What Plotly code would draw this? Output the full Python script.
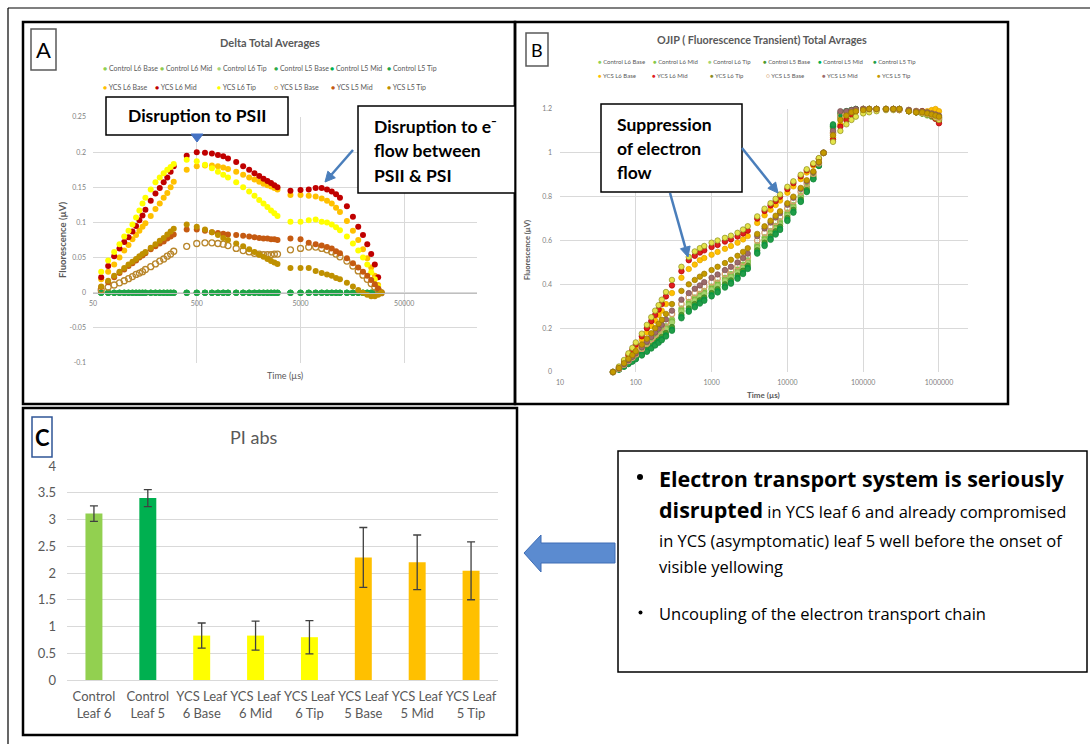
import math
import plotly.graph_objects as go

# ======================= DATA =======================
SERIES_NAMES = ["Control L6 Base", "Control L6 Mid", "Control L6 Tip",
                "Control L5 Base", "Control L5 Mid", "Control L5 Tip",
                "YCS L6 Base", "YCS L6 Mid", "YCS L6 Tip",
                "YCS L5 Base", "YCS L5 Mid", "YCS L5 Tip"]

# ---- Panel A: delta (YCS - control) of normalised OJIP transient ----
TIME_A = [50, 60, 70, 80, 90, 100, 110, 120, 130, 140, 150, 160, 180, 200, 220, 240, 260, 280, 300,
          400, 500, 600, 700, 800, 900, 1000, 1200, 1400, 1600, 1800, 2000, 2200, 2400, 2600, 2800, 3000,
          4000, 5000, 6000, 7000, 8000, 9000, 10000, 11000, 12000, 14000, 16000, 18000, 20000, 22000,
          24000, 26000, 28000, 30000]

DELTA_CONTROL = [0, 0, 0, 0, 0, 0, 0, 0, 0, 0, 0, 0, 0, 0, 0, 0, 0, 0, 0,
                 0, 0, 0, 0, 0, 0, 0, 0, 0, 0, 0, 0, 0, 0, 0, 0, 0,
                 0, 0, 0, 0, 0, 0, 0, 0, 0, 0, 0, 0, 0, 0, 0, 0, 0, 0]

DELTA_YCS_L6_BASE = [0, 0.019, 0.030, 0.040, 0.050, 0.060, 0.068, 0.076, 0.082, 0.088, 0.094, 0.099, 0.109, 0.119, 0.127, 0.135, 0.142, 0.150, 0.158,
                     0.175, 0.180, 0.181, 0.181, 0.180, 0.178, 0.176, 0.172, 0.168, 0.164, 0.161, 0.158, 0.155, 0.153, 0.151, 0.149, 0.147,
                     0.139, 0.139, 0.138, 0.137, 0.134, 0.131, 0.127, 0.121, 0.115, 0.102, 0.088, 0.075, 0.062, 0.049, 0.036, 0.024, 0.011, 0.0]
DELTA_YCS_L6_MID = [0, 0.022, 0.038, 0.052, 0.063, 0.072, 0.079, 0.087, 0.095, 0.103, 0.110, 0.118, 0.131, 0.141, 0.149, 0.157, 0.164, 0.172, 0.180,
                    0.195, 0.200, 0.199, 0.198, 0.196, 0.194, 0.191, 0.186, 0.180, 0.175, 0.170, 0.166, 0.162, 0.159, 0.156, 0.153, 0.150,
                    0.145, 0.146, 0.147, 0.149, 0.149, 0.147, 0.144, 0.140, 0.135, 0.123, 0.108, 0.094, 0.082, 0.069, 0.055, 0.040, 0.022, 0.0]
DELTA_YCS_L6_TIP = [0, 0.030, 0.046, 0.058, 0.069, 0.080, 0.088, 0.097, 0.107, 0.117, 0.127, 0.135, 0.147, 0.157, 0.164, 0.170, 0.175, 0.179, 0.183,
                    0.189, 0.187, 0.182, 0.177, 0.172, 0.168, 0.164, 0.157, 0.150, 0.144, 0.138, 0.132, 0.127, 0.122, 0.117, 0.113, 0.109,
                    0.101, 0.101, 0.103, 0.104, 0.101, 0.100, 0.097, 0.093, 0.089, 0.080, 0.070, 0.060, 0.050, 0.040, 0.029, 0.019, 0.009, 0.0]
DELTA_YCS_L5_BASE = [0, 0.004, 0.008, 0.011, 0.014, 0.017, 0.020, 0.023, 0.026, 0.028, 0.030, 0.033, 0.037, 0.041, 0.045, 0.048, 0.052, 0.055, 0.059,
                     0.066, 0.070, 0.071, 0.071, 0.070, 0.069, 0.067, 0.063, 0.060, 0.058, 0.056, 0.055, 0.054, 0.054, 0.054, 0.055, 0.055,
                     0.061, 0.063, 0.065, 0.065, 0.063, 0.061, 0.058, 0.055, 0.051, 0.045, 0.038, 0.031, 0.025, 0.019, 0.013, 0.008, 0.004, 0.0]
DELTA_YCS_L5_MID = [0, 0.008, 0.015, 0.022, 0.028, 0.033, 0.038, 0.042, 0.046, 0.050, 0.053, 0.056, 0.062, 0.066, 0.070, 0.073, 0.077, 0.080, 0.083,
                    0.090, 0.090, 0.088, 0.086, 0.085, 0.084, 0.083, 0.082, 0.081, 0.080, 0.079, 0.078, 0.077, 0.077, 0.076, 0.076, 0.075,
                    0.077, 0.076, 0.071, 0.069, 0.067, 0.065, 0.063, 0.059, 0.056, 0.049, 0.042, 0.036, 0.030, 0.024, 0.018, 0.012, 0.006, 0.0]
DELTA_YCS_L5_TIP = [0, 0.009, 0.017, 0.024, 0.030, 0.035, 0.040, 0.044, 0.048, 0.052, 0.055, 0.058, 0.064, 0.069, 0.074, 0.078, 0.083, 0.087, 0.091,
                    0.097, 0.094, 0.090, 0.086, 0.082, 0.078, 0.075, 0.070, 0.066, 0.062, 0.058, 0.054, 0.051, 0.048, 0.045, 0.043, 0.041,
                    0.035, 0.035, 0.035, 0.031, 0.028, 0.026, 0.024, 0.021, 0.019, 0.014, 0.009, 0.004, 0.000, -0.003, -0.005, -0.005, -0.003, 0.0]

A_X_TICKS = [50, 500, 5000, 50000]
A_X_TICKTEXT = ["50", "500", "5000", "50000"]
A_Y_TICKS = [-0.1, -0.05, 0, 0.05, 0.1, 0.15, 0.2, 0.25]
A_Y_TICKTEXT = ["-0.1", "-0.05", "0", "0.05", "0.1", "0.15", "0.2", "0.25"]

# ---- Panel B: OJIP fluorescence transient (normalised) ----
TIME_B = [50, 60, 70, 80, 90, 100, 120, 140, 160, 180, 200, 220, 250, 300,
          400, 500, 600, 700, 800, 1000, 1200, 1500, 1800, 2200, 2600, 3000,
          4000, 5000, 6000, 7000, 8000, 10000, 12000, 15000, 18000, 22000, 26000, 30000,
          40000, 50000, 60000, 70000, 80000, 100000, 120000, 150000, 200000, 250000, 300000,
          400000, 500000, 600000, 700000, 800000, 900000, 1000000]

OJIP_CONTROL_L6_BASE = [0, 0.014, 0.031, 0.047, 0.061, 0.075, 0.098, 0.12, 0.14, 0.157, 0.173, 0.188, 0.209, 0.24,
                        0.29, 0.32, 0.34, 0.357, 0.37, 0.39, 0.408, 0.43, 0.447, 0.468, 0.49, 0.51,
                        0.58, 0.615, 0.643, 0.667, 0.688, 0.728, 0.762, 0.806, 0.846, 0.895, 0.948, 1.0,
                        1.11, 1.16, 1.18, 1.19, 1.195, 1.2, 1.2, 1.2, 1.2, 1.2, 1.2,
                        1.19, 1.185, 1.18, 1.175, 1.17, 1.16, 1.15]
OJIP_CONTROL_L6_MID = [0, 0.013, 0.03, 0.045, 0.059, 0.072, 0.094, 0.115, 0.134, 0.151, 0.166, 0.18, 0.2, 0.23,
                       0.28, 0.31, 0.33, 0.347, 0.36, 0.38, 0.398, 0.42, 0.437, 0.458, 0.48, 0.5,
                       0.57, 0.605, 0.633, 0.657, 0.678, 0.718, 0.753, 0.798, 0.84, 0.891, 0.946, 1.0,
                       1.115, 1.165, 1.18, 1.19, 1.195, 1.2, 1.2, 1.2, 1.2, 1.2, 1.2,
                       1.19, 1.185, 1.18, 1.175, 1.165, 1.16, 1.15]
OJIP_CONTROL_L6_TIP = [0, 0.013, 0.029, 0.044, 0.057, 0.07, 0.091, 0.111, 0.13, 0.146, 0.161, 0.175, 0.195, 0.225,
                       0.275, 0.305, 0.325, 0.342, 0.355, 0.375, 0.393, 0.415, 0.432, 0.453, 0.475, 0.497,
                       0.565, 0.6, 0.628, 0.652, 0.673, 0.713, 0.749, 0.795, 0.837, 0.889, 0.945, 1.0,
                       1.12, 1.17, 1.185, 1.195, 1.2, 1.2, 1.2, 1.2, 1.2, 1.2, 1.2,
                       1.19, 1.185, 1.18, 1.17, 1.165, 1.155, 1.145]
OJIP_CONTROL_L5_BASE = [0, 0.012, 0.027, 0.04, 0.052, 0.064, 0.083, 0.101, 0.118, 0.133, 0.147, 0.16, 0.178, 0.205,
                        0.26, 0.29, 0.31, 0.327, 0.34, 0.36, 0.378, 0.4, 0.418, 0.44, 0.462, 0.485,
                        0.555, 0.59, 0.618, 0.642, 0.663, 0.703, 0.74, 0.787, 0.83, 0.885, 0.943, 1.0,
                        1.12, 1.17, 1.185, 1.19, 1.195, 1.2, 1.2, 1.2, 1.2, 1.2, 1.2,
                        1.19, 1.185, 1.18, 1.175, 1.17, 1.16, 1.15]
OJIP_CONTROL_L5_MID = [0, 0.011, 0.025, 0.038, 0.049, 0.06, 0.078, 0.095, 0.111, 0.125, 0.138, 0.15, 0.167, 0.193,
                       0.25, 0.28, 0.3, 0.317, 0.33, 0.35, 0.368, 0.39, 0.408, 0.43, 0.452, 0.475,
                       0.545, 0.58, 0.608, 0.632, 0.653, 0.694, 0.731, 0.779, 0.824, 0.881, 0.941, 1.0,
                       1.125, 1.175, 1.19, 1.195, 1.2, 1.2, 1.2, 1.2, 1.2, 1.2, 1.2,
                       1.195, 1.19, 1.185, 1.18, 1.17, 1.165, 1.155]
OJIP_CONTROL_L5_TIP = [0, 0.011, 0.024, 0.036, 0.047, 0.058, 0.075, 0.092, 0.107, 0.121, 0.133, 0.145, 0.162, 0.188,
                       0.245, 0.275, 0.295, 0.312, 0.325, 0.345, 0.363, 0.385, 0.403, 0.425, 0.447, 0.47,
                       0.54, 0.575, 0.603, 0.627, 0.648, 0.689, 0.727, 0.776, 0.821, 0.879, 0.94, 1.0,
                       1.13, 1.18, 1.19, 1.195, 1.2, 1.2, 1.2, 1.2, 1.2, 1.2, 1.2,
                       1.195, 1.19, 1.185, 1.18, 1.175, 1.165, 1.16]
OJIP_YCS_L6_BASE = [0, 0.02, 0.045, 0.07, 0.09, 0.112, 0.148, 0.18, 0.21, 0.235, 0.26, 0.28, 0.31, 0.36,
                    0.43, 0.47, 0.49, 0.51, 0.52, 0.535, 0.548, 0.562, 0.575, 0.59, 0.605, 0.62,
                    0.68, 0.715, 0.74, 0.762, 0.782, 0.818, 0.847, 0.88, 0.91, 0.942, 0.971, 1.0,
                    1.07, 1.13, 1.16, 1.18, 1.19, 1.2, 1.2, 1.2, 1.2, 1.2, 1.2,
                    1.195, 1.19, 1.19, 1.19, 1.195, 1.2, 1.19]
OJIP_YCS_L6_MID = [0, 0.022, 0.05, 0.078, 0.1, 0.125, 0.163, 0.2, 0.232, 0.26, 0.285, 0.31, 0.345, 0.395,
                   0.46, 0.51, 0.53, 0.545, 0.555, 0.57, 0.58, 0.595, 0.605, 0.618, 0.632, 0.645,
                   0.70, 0.735, 0.76, 0.78, 0.8, 0.835, 0.862, 0.893, 0.92, 0.948, 0.974, 1.0,
                   1.06, 1.12, 1.15, 1.175, 1.19, 1.2, 1.2, 1.2, 1.2, 1.2, 1.195,
                   1.19, 1.185, 1.19, 1.18, 1.17, 1.155, 1.135]
OJIP_YCS_L6_TIP = [0, 0.025, 0.055, 0.085, 0.11, 0.135, 0.175, 0.215, 0.25, 0.28, 0.305, 0.33, 0.365, 0.42,
                   0.48, 0.525, 0.55, 0.565, 0.575, 0.59, 0.6, 0.612, 0.622, 0.635, 0.65, 0.665,
                   0.71, 0.745, 0.77, 0.79, 0.81, 0.845, 0.87, 0.9, 0.925, 0.952, 0.976, 1.0,
                   1.05, 1.1, 1.13, 1.15, 1.165, 1.18, 1.185, 1.19, 1.195, 1.195, 1.195,
                   1.19, 1.185, 1.18, 1.175, 1.17, 1.16, 1.15]
OJIP_YCS_L5_BASE = [0, 0.015, 0.034, 0.051, 0.066, 0.081, 0.106, 0.13, 0.151, 0.17, 0.187, 0.203, 0.226, 0.265,
                    0.31, 0.34, 0.36, 0.377, 0.39, 0.41, 0.427, 0.447, 0.463, 0.483, 0.503, 0.525,
                    0.6, 0.635, 0.662, 0.686, 0.707, 0.746, 0.78, 0.822, 0.86, 0.905, 0.953, 1.0,
                    1.09, 1.17, 1.18, 1.19, 1.195, 1.2, 1.2, 1.2, 1.2, 1.2, 1.2,
                    1.195, 1.19, 1.185, 1.18, 1.175, 1.17, 1.16]
OJIP_YCS_L5_MID = [0, 0.016, 0.036, 0.054, 0.07, 0.086, 0.113, 0.138, 0.16, 0.18, 0.198, 0.215, 0.24, 0.28,
                   0.33, 0.36, 0.38, 0.395, 0.41, 0.43, 0.445, 0.465, 0.48, 0.5, 0.52, 0.54,
                   0.62, 0.655, 0.682, 0.705, 0.725, 0.763, 0.795, 0.835, 0.87, 0.912, 0.956, 1.0,
                   1.1, 1.19, 1.19, 1.195, 1.2, 1.2, 1.2, 1.2, 1.2, 1.2, 1.2,
                   1.195, 1.19, 1.19, 1.185, 1.18, 1.175, 1.17]
OJIP_YCS_L5_TIP = [0, 0.018, 0.04, 0.06, 0.078, 0.095, 0.125, 0.152, 0.177, 0.2, 0.22, 0.238, 0.265, 0.31,
                   0.37, 0.40, 0.42, 0.435, 0.448, 0.465, 0.48, 0.497, 0.512, 0.53, 0.548, 0.565,
                   0.63, 0.665, 0.69, 0.713, 0.733, 0.77, 0.8, 0.84, 0.875, 0.915, 0.958, 1.0,
                   1.08, 1.15, 1.17, 1.185, 1.19, 1.195, 1.2, 1.2, 1.2, 1.2, 1.2,
                   1.19, 1.185, 1.185, 1.18, 1.175, 1.17, 1.165]

B_X_TICKS = [10, 100, 1000, 10000, 100000, 1000000]
B_X_TICKTEXT = ["10", "100", "1000", "10000", "100000", "1000000"]
B_Y_TICKS = [0, 0.2, 0.4, 0.6, 0.8, 1.0, 1.2]
B_Y_TICKTEXT = ["0", "0.2", "0.4", "0.6", "0.8", "1", "1.2"]

# ---- Panel C: PI abs ----
PI_CATEGORIES = ["Control<br>Leaf 6", "Control<br>Leaf 5", "YCS Leaf<br>6 Base", "YCS Leaf<br>6 Mid",
                 "YCS Leaf<br>6 Tip", "YCS Leaf<br>5 Base", "YCS Leaf<br>5 Mid", "YCS Leaf<br>5 Tip"]
PI_VALUES = [3.11, 3.40, 0.83, 0.83, 0.80, 2.29, 2.20, 2.04]
PI_ERRORS = [0.145, 0.16, 0.235, 0.27, 0.31, 0.56, 0.51, 0.54]

# ======================= STYLE =======================
FONT = "Lato, 'Open Sans', sans-serif"
FONT_BOX = "'Open Sans', Lato, sans-serif"
W, H = 1090, 744
GRID = "#D9D9D9"
AX_TXT = "#7F7F7F"


def X(p):
    return p / W


def Y(p):
    return 1 - p / H


A_DATA = [DELTA_CONTROL] * 6 + [DELTA_YCS_L6_BASE, DELTA_YCS_L6_MID, DELTA_YCS_L6_TIP,
                               DELTA_YCS_L5_BASE, DELTA_YCS_L5_MID, DELTA_YCS_L5_TIP]
A_COLORS = ["#92D050", "#8FCB4F", "#A5D47A", "#2EAA4A", "#00B050", "#1FA347",
            "#FFC000", "#C00000", "#FFFF00", "#B8862B", "#C55A11", "#BF9000"]
A_OPEN = [False] * 9 + [True, False, False]

B_DATA = [OJIP_CONTROL_L6_BASE, OJIP_CONTROL_L6_MID, OJIP_CONTROL_L6_TIP,
          OJIP_CONTROL_L5_BASE, OJIP_CONTROL_L5_MID, OJIP_CONTROL_L5_TIP,
          OJIP_YCS_L6_BASE, OJIP_YCS_L6_MID, OJIP_YCS_L6_TIP,
          OJIP_YCS_L5_BASE, OJIP_YCS_L5_MID, OJIP_YCS_L5_TIP]
B_COLORS = ["#92D050", "#86C846", "#A6D46E", "#4E9A2A", "#00B050", "#1E9E48",
            "#FFC000", "#E01E1E", "#E4E44A", "#D4A06A", "#9C6B6B", "#C59A00"]
B_EDGES = ["#7DB83E", "#74B035", "#8FBF58", "#3D7F20", "#009040", "#15853A",
           "#E0A400", "#B00000", "#8C8C1E", "#D4A06A", "#7A4F4F", "#9A7800"]
B_OPEN = [False] * 9 + [True, False, False]

fig = go.Figure()

# ---- Panel A traces ----
for name, ys, col, op in zip(SERIES_NAMES, A_DATA, A_COLORS, A_OPEN):
    fig.add_trace(go.Scatter(
        x=TIME_A, y=ys, mode="markers", name=name, xaxis="x", yaxis="y", showlegend=False,
        marker=dict(size=6, color=col, symbol="circle-open" if op else "circle",
                    line=dict(width=1.3 if op else 0, color=col)),
        cliponaxis=False))

# ---- Panel B traces ----
for name, ys, col, ed, op in zip(SERIES_NAMES, B_DATA, B_COLORS, B_EDGES, B_OPEN):
    fig.add_trace(go.Scatter(
        x=TIME_B, y=ys, mode="markers", name=name, xaxis="x2", yaxis="y2", showlegend=False,
        marker=dict(size=5.5, color=col, symbol="circle-open" if op else "circle",
                    line=dict(width=1.2 if op else 0.7, color=ed)),
        cliponaxis=False))

# ---- Panel C bars ----
PI_COLORS = ["#92D050", "#00B050", "#FFFF00", "#FFFF00", "#FFFF00", "#FFC000", "#FFC000", "#FFC000"]
fig.add_trace(go.Bar(
    x=PI_CATEGORIES, y=PI_VALUES, xaxis="x3", yaxis="y3", showlegend=False, name="PI abs",
    marker=dict(color=PI_COLORS, line=dict(width=0)),
    error_y=dict(type="data", array=PI_ERRORS, visible=True, color="#404040", thickness=1.3, width=4)))

small = dict(family=FONT, size=7, color=AX_TXT)
fig.update_layout(
    width=W, height=H, margin=dict(l=0, r=0, t=0, b=0),
    paper_bgcolor="white", plot_bgcolor="rgba(0,0,0,0)",
    font=dict(family=FONT), template="none", bargap=0.685,
    xaxis=dict(domain=[X(93), X(477)], type="log", range=[1.699, 5.40], anchor="free", position=Y(293),
               tickvals=A_X_TICKS, ticktext=A_X_TICKTEXT, showgrid=True, gridcolor=GRID, gridwidth=1,
               showline=True, linecolor="#BFBFBF", linewidth=1, ticks="", zeroline=False,
               tickfont=small, ticklabelstandoff=4),
    yaxis=dict(domain=[Y(363), Y(117)], range=[-0.1, 0.25], anchor="x", tickvals=A_Y_TICKS,
               ticktext=A_Y_TICKTEXT, showgrid=True, gridcolor=GRID, zeroline=False, showline=False,
               ticks="", tickfont=small, ticklabelstandoff=6),
    xaxis2=dict(domain=[X(560), X(968)], type="log", range=[1, 6.383], anchor="y2",
                tickvals=B_X_TICKS, ticktext=B_X_TICKTEXT, showgrid=True, gridcolor=GRID,
                showline=False, ticks="", zeroline=False, tickfont=small, ticklabelstandoff=5),
    yaxis2=dict(domain=[Y(372), Y(109)], range=[0, 1.2], anchor="x2", tickvals=B_Y_TICKS,
                ticktext=B_Y_TICKTEXT, showgrid=True, gridcolor=GRID, zeroline=False, showline=False,
                ticks="", tickfont=small, ticklabelstandoff=7),
    xaxis3=dict(domain=[X(67), X(498)], anchor="y3", type="category", showgrid=False, ticks="",
                showline=True, linecolor=GRID, linewidth=1,
                tickfont=dict(family=FONT, size=13, color="#595959"), ticklabelstandoff=4),
    yaxis3=dict(domain=[Y(680), Y(466)], range=[0, 4], dtick=0.5, anchor="x3", showgrid=True,
                gridcolor=GRID, gridwidth=1.2, zeroline=False, showline=False, ticks="",
                tickfont=dict(family=FONT, size=13, color="#595959"), ticklabelstandoff=10),
)

# ======================= SHAPES =======================
shapes = []


def line(x0, y0, x1, y1, color="black", width=1.5):
    shapes.append(dict(type="line", xref="paper", yref="paper", x0=X(x0), y0=Y(y0), x1=X(x1), y1=Y(y1),
                       line=dict(color=color, width=width), layer="above"))


def rect(x0, y0, x1, y1, color="black", width=1.5, fill=None):
    shapes.append(dict(type="rect", xref="paper", yref="paper", x0=X(x0), y0=Y(y0), x1=X(x1), y1=Y(y1),
                       line=dict(color=color, width=width), fillcolor=fill if fill else "rgba(0,0,0,0)",
                       layer="above"))


def poly(pts, fill, color, width=1):
    d = "M " + " L ".join(f"{X(a)},{Y(b)}" for a, b in pts) + " Z"
    shapes.append(dict(type="path", xref="paper", yref="paper", path=d, fillcolor=fill,
                       line=dict(color=color, width=width), layer="above"))


def arrow(hx, hy, tx, ty, color="#4A7EBB"):
    dx, dy = hx - tx, hy - ty
    n = math.hypot(dx, dy)
    ux, uy = dx / n, dy / n
    bx, by = hx - 10 * ux, hy - 10 * uy
    px_, py_ = -uy, ux
    line(tx, ty, bx, by, color=color, width=2.5)
    poly([(hx, hy), (bx + 5 * px_, by + 5 * py_), (bx - 5 * px_, by - 5 * py_)], color, color, 1)


# outer frame
line(8, 8, 1090, 8, width=1.2)
line(8, 8, 8, 744, width=1.2)
# panel frames
rect(23, 22, 515, 404, width=2.5)
rect(515, 22, 1008, 404, width=2.5)
rect(23, 408, 517, 735, width=2.5)
# panel label boxes
rect(31, 29, 56, 70, color="#595959", width=1.5)
rect(526, 33, 548, 66, color="#595959", width=1.5)
rect(32, 417, 52, 457, color="#2F5597", width=1.5)
# callout boxes
rect(106, 97, 288, 135, width=1.5, fill="white")
rect(358, 106, 515, 193, width=1.5, fill="white")
rect(601, 104, 742, 192, width=1.5, fill="white")
rect(618, 451, 1087, 672, width=1.5, fill="white")
# small blue pointer under "Disruption to PSII"
poly([(191, 134), (203, 134), (197, 142)], "#4472C4", "#4472C4")
# thin callout arrows
arrow(325, 182, 353, 150)
arrow(688, 257, 670, 193)
arrow(778, 193, 742, 148)
# big block arrow
poly([(524, 553), (541, 535), (541, 543), (615, 543), (615, 563), (541, 563), (541, 572)],
     "#5B8BD0", "#3E6DB5")
# bullets of the conclusion box (round dots)
shapes.append(dict(type="circle", xref="paper", yref="paper", x0=X(637), y0=Y(474), x1=X(643), y1=Y(480),
                   fillcolor="black", line=dict(width=0), layer="above"))
shapes.append(dict(type="circle", xref="paper", yref="paper", x0=X(638.5), y0=Y(610.5), x1=X(642.5), y1=Y(614.5),
                   fillcolor="black", line=dict(width=0), layer="above"))

fig.update_layout(shapes=shapes)

# ======================= TEXT =======================
anns = []


def text(x, y, s, size, color="black", bold=False, xanchor="center", yanchor="middle", angle=0, family=FONT):
    if bold:
        s = "<b>" + s + "</b>"
    anns.append(dict(x=X(x), y=Y(y), xref="paper", yref="paper", text=s, showarrow=False,
                     font=dict(family=family, size=size, color=color), xanchor=xanchor, yanchor=yanchor,
                     textangle=angle))


# Panel labels
text(43.5, 50, "A", 22)
text(537, 50, "B", 18)
text(42, 437, "C", 22, bold=True)

# Panel A titles / axis titles
text(270, 43, "Delta Total Averages", 11, color="#595959", bold=True)
text(63, 240, "Fluorescence (µV)", 9.5, color="#595959", bold=True, angle=-90)
text(285, 375, "Time (µs)", 9, color="#595959")

# Panel B titles / axis titles
text(762, 40, "OJIP ( Fluorescence Transient) Total Avrages", 10.8, color="#595959", bold=True)
text(528, 250, "Fluorescence (µV)", 7.5, color="#595959", bold=True, angle=-90)
text(763, 395, "Time (µs)", 8, color="#595959", bold=True)

# Panel C title
text(253, 437, "PI abs", 18, color="#595959")

# legends (as text rows)
A_LEG_X = [101, 158, 215, 272, 328, 385, 101, 153, 215, 272, 329, 385]
A_LEG_Y = [68] * 6 + [87] * 6
for i, name in enumerate(SERIES_NAMES):
    sym = "○" if A_OPEN[i] else "●"
    s = f"<span style='color:{A_COLORS[i]}'>{sym}</span> {name}"
    text(A_LEG_X[i], A_LEG_Y[i], s, 7, color="#595959", xanchor="left")

B_LEG_X = [596, 651, 706, 761, 816, 871, 596, 650, 708, 764, 820, 875]
B_LEG_Y = [61] * 6 + [75] * 6
for i, name in enumerate(SERIES_NAMES):
    sym = "○" if B_OPEN[i] else "●"
    col = B_EDGES[i] if i in (8, 9) else B_COLORS[i]
    s = f"<span style='color:{col}'>{sym}</span> {name}"
    text(B_LEG_X[i], B_LEG_Y[i], s, 6, color="#595959", xanchor="left")

# callouts
text(197, 116, "Disruption to PSII", 17.5, bold=True)
text(372, 127, "Disruption to e⁻", 17.5, bold=True, xanchor="left")
text(372, 151, "flow between", 17.5, bold=True, xanchor="left")
text(372, 175, "PSII & PSI", 17.5, bold=True, xanchor="left")

text(615, 125, "Suppression", 17.5, bold=True, xanchor="left")
text(615, 148, "of electron", 17.5, bold=True, xanchor="left")
text(615, 172, "flow", 17.5, bold=True, xanchor="left")

# conclusion box
text(657, 478, "Electron transport system is seriously", 21.5, bold=True, xanchor="left", family=FONT_BOX)
text(657, 510, "<b>disrupted</b><span style='font-size:16.5px'> in YCS leaf 6 and already compromised</span>",
     21.5, xanchor="left", family=FONT_BOX)
text(657, 540, "in YCS (asymptomatic) leaf 5 well before the onset of", 16.5, xanchor="left", family=FONT_BOX)
text(657, 566, "visible yellowing", 16.5, xanchor="left", family=FONT_BOX)
text(657, 613, "Uncoupling of the electron transport chain", 16.5, xanchor="left", family=FONT_BOX)

fig.update_layout(annotations=anns)

fig.write_html("out.html")
